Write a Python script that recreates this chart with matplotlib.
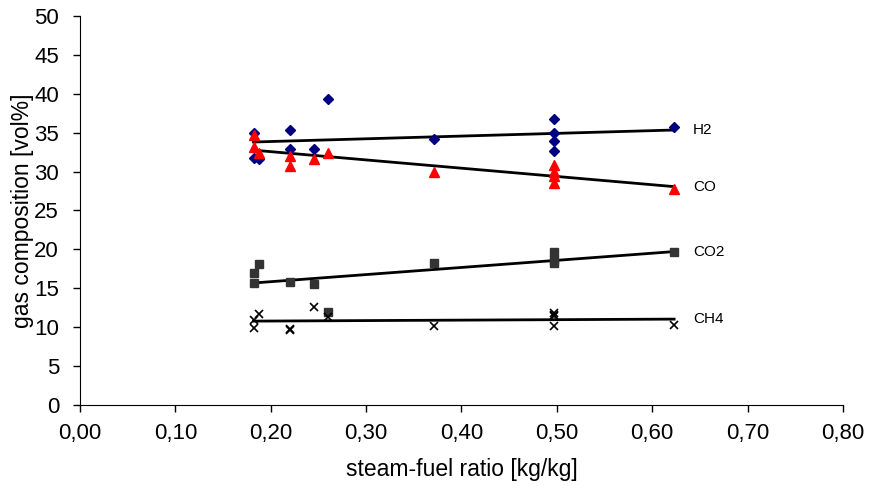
import numpy as np
import matplotlib.pyplot as plt

plt.rcParams['font.family'] = ['Liberation Sans', 'DejaVu Sans']

# steam-fuel ratio and measured gas composition (vol%)
h2_x = [0.182, 0.182, 0.188, 0.220, 0.220, 0.245, 0.260, 0.371, 0.497, 0.497, 0.497, 0.497, 0.623]
h2_y = [34.9, 31.8, 31.6, 35.3, 32.9, 32.9, 39.3, 34.2, 36.7, 35.0, 33.9, 32.6, 35.7]
co_x = [0.182, 0.182, 0.188, 0.220, 0.220, 0.245, 0.260, 0.371, 0.497, 0.497, 0.497, 0.497, 0.623]
co_y = [34.7, 33.1, 32.4, 32.0, 30.7, 31.6, 32.4, 29.9, 30.8, 30.0, 29.4, 28.5, 27.8]
co2_x = [0.182, 0.188, 0.182, 0.220, 0.245, 0.260, 0.371, 0.497, 0.497, 0.497, 0.623]
co2_y = [17.0, 18.1, 15.7, 15.8, 15.5, 12.0, 18.3, 19.6, 18.6, 18.3, 19.6]
ch4_x = [0.182, 0.182, 0.188, 0.220, 0.220, 0.245, 0.260, 0.371, 0.497, 0.497, 0.497, 0.497, 0.623]
ch4_y = [10.9, 9.9, 11.7, 9.7, 9.6, 12.6, 11.3, 10.2, 11.8, 11.6, 11.4, 10.2, 10.3]

series = [
    ('H2', h2_x, h2_y, dict(marker='D', color='#000080', ms=5, ls='none')),
    ('CO', co_x, co_y, dict(marker='^', color='#ff0000', ms=7, ls='none')),
    ('CO2', co2_x, co2_y, dict(marker='s', color='#333333', ms=6, ls='none')),
    ('CH4', ch4_x, ch4_y, dict(marker='x', color='black', ms=6, mew=1.2, ls='none')),
]

fig = plt.figure(figsize=(8.69, 4.86), dpi=100)
ax = fig.add_axes([0.092, 0.167, 0.878, 0.800])

for name, xs, ys, style in series:
    xs = np.array(xs)
    ys = np.array(ys)
    ax.plot(xs, ys, zorder=3, **style)
    # linear trend line over the measured range
    k, d = np.polyfit(xs, ys, 1)
    xl = np.array([xs.min(), xs.max()])
    ax.plot(xl, k * xl + d, color='black', lw=2, zorder=2)
    ax.text(0.643, k * xs.max() + d, name, fontsize=11, va='center', ha='left')

ax.set_xlim(0, 0.8)
ax.set_ylim(0, 50)
ax.set_xticks(np.arange(0, 0.81, 0.1))
ax.set_xticklabels([('%.2f' % v).replace('.', ',') for v in np.arange(0, 0.81, 0.1)])
ax.set_yticks(range(0, 51, 5))
ax.tick_params(labelsize=16, direction='out', length=5, width=1)
ax.tick_params(axis='x', pad=8)
ax.tick_params(axis='y', pad=10)
ax.spines['top'].set_visible(False)
ax.spines['right'].set_visible(False)
ax.set_xlabel('steam-fuel ratio [kg/kg]', fontsize=16.5, labelpad=10)
ax.set_ylabel('gas composition [vol%]', fontsize=16.5, labelpad=0)

fig.savefig('out.png', dpi=100)
